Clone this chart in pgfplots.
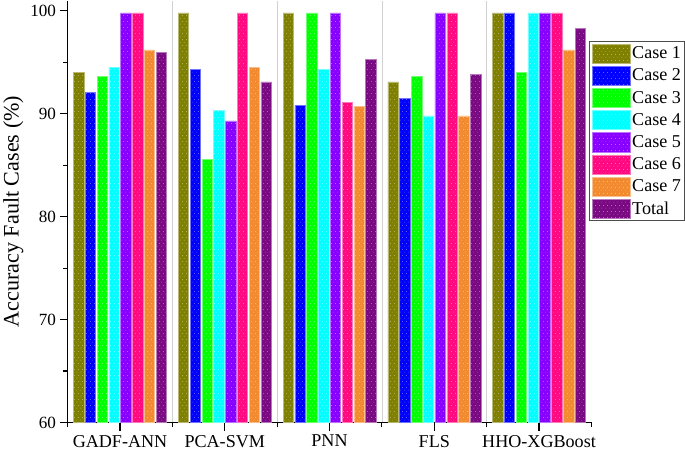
\documentclass[border=0pt]{standalone}
\usepackage{fontspec}
\setmainfont{Liberation Serif}
\usepackage{pgfplots}
\pgfplotsset{compat=1.18}
\usetikzlibrary{patterns}
\pgfdeclarepatternformonly{sparsedots}{\pgfpointorigin}{\pgfpoint{4bp}{6bp}}{\pgfpoint{4bp}{6bp}}{%
  \pgfpathcircle{\pgfpoint{1bp}{1bp}}{0.45bp}%
  \pgfpathcircle{\pgfpoint{3bp}{4bp}}{0.45bp}%
  \pgfusepath{fill}}
\definecolor{c1}{HTML}{808000}
\definecolor{c2}{HTML}{0000FF}
\definecolor{c3}{HTML}{00FF00}
\definecolor{c4}{HTML}{00FFFF}
\definecolor{c5}{HTML}{8800FF}
\definecolor{c6}{HTML}{FF0A80}
\definecolor{c7}{HTML}{F28A30}
\definecolor{c8}{HTML}{7A0A82}
\pgfplotsset{
  barsty/.style={fill=#1, draw=#1!55!white, line width=0.5bp,
    postaction={pattern=sparsedots, pattern color=white!55!#1}},
}
\begin{document}
\begin{tikzpicture}
\begin{axis}[
  width=519bp, height=418bp, scale only axis,
  ybar=1.4bp, bar width=10.3bp,
  xmin=-0.5, xmax=4.5, ymin=60, ymax=101,
  axis x line=bottom, axis y line=left,
  axis line style={line width=1.2bp, -},
  every tick/.style={black, line width=1.1bp},
  tick align=outside,
  xtick={0,1,2,3,4},
  xticklabels={GADF-ANN,PCA-SVM,PNN,FLS,HHO-XGBoost},
  minor xtick={-0.5,0.5,1.5,2.5,3.5,4.5},
  extra x ticks={0.5,1.5,2.5,3.5},
  extra x tick labels={},
  extra x tick style={grid=major, major grid style={gray!35, line width=0.8bp}, major tick length=0pt},
  ytick={60,70,80,90,100},
  minor ytick={65,75,85,95},
  major tick length=8bp, minor tick length=4.5bp,
  /pgf/number format/assume math mode=true,
  xticklabel style={font=\fontsize{18}{18}\selectfont, yshift=-1bp},
  yticklabel style={font=\fontsize{17}{17}\selectfont},
  ylabel={Accuracy Fault Cases (\%)},
  ylabel style={font=\fontsize{22}{22}\selectfont},
  legend image code/.code={\draw[#1] (0bp,-9.5bp) rectangle (38bp,9.5bp);},
  legend style={at={(0.996,0.904)}, anchor=north west, draw=black!70, line width=1bp,
    font=\fontsize{18}{18}\selectfont, inner xsep=2bp, inner ysep=2bp,
    row sep=2.5bp, nodes={inner sep=1.5bp}},
  legend cell align=left,
  clip=false,
]
\addplot[barsty=c1] coordinates {(0,94.0) (1,99.8) (2,99.8) (3,93.1) (4,99.8)};
\addplot[barsty=c2] coordinates {(0,92.1) (1,94.3) (2,90.8) (3,91.5) (4,99.8)};
\addplot[barsty=c3] coordinates {(0,93.6) (1,85.6) (2,99.8) (3,93.6) (4,94.0)};
\addplot[barsty=c4] coordinates {(0,94.5) (1,90.3) (2,94.3) (3,89.8) (4,99.8)};
\addplot[barsty=c5] coordinates {(0,99.8) (1,89.3) (2,99.8) (3,99.8) (4,99.8)};
\addplot[barsty=c6] coordinates {(0,99.8) (1,99.8) (2,91.1) (3,99.8) (4,99.8)};
\addplot[barsty=c7] coordinates {(0,96.2) (1,94.5) (2,90.7) (3,89.8) (4,96.2)};
\addplot[barsty=c8] coordinates {(0,96.0) (1,93.1) (2,95.3) (3,93.8) (4,98.3)};
\legend{Case 1,Case 2,Case 3,Case 4,Case 5,Case 6,Case 7,Total}
\end{axis}
\end{tikzpicture}
\end{document}
